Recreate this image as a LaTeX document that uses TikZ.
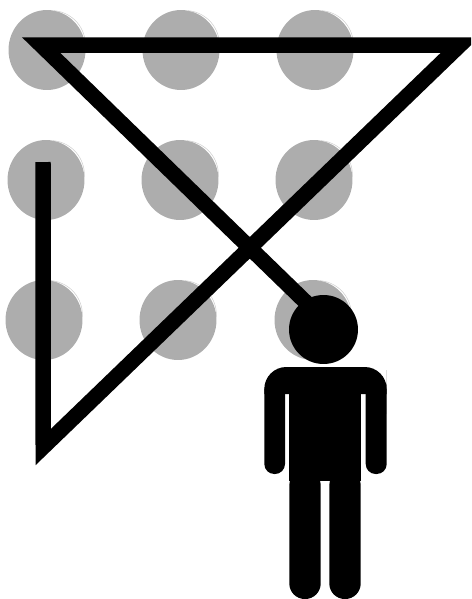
\documentclass[tikz,border=0pt]{standalone}
\definecolor{dotgray}{RGB}{173, 173, 173}
\usetikzlibrary{shapes.geometric}
\tikzset{
	dotnode/.style={ellipse, fill=dotgray, inner sep=0pt, outer sep=0pt, minimum width=1.54cm, minimum height=1.6cm},
	scratch/.style={draw=dotgray!60, line width=0.3pt},
	pencil/.style={draw=black, line width=0.31cm, miter limit=20},
	figurepart/.style={fill=black},
}

\begin{document}
\begin{tikzpicture}[x=0.02cm, y=-0.02cm]
		\clip (0,0) rectangle (471,599);
		% the nine dots
		\node[dotnode] (dotA) at (47,50) {};
		\node[dotnode] (dotB) at (181,50) {};
		\node[dotnode] (dotC) at (315,50) {};
		\node[dotnode] (dotD) at (46,180) {};
		\node[dotnode] (dotE) at (180,180) {};
		\node[dotnode] (dotF) at (314,180) {};
		\node[dotnode] (dotG) at (44,320) {};
		\node[dotnode] (dotH) at (178,320) {};
		\node[dotnode] (dotI) at (313,320) {};
		\foreach \d in {dotA,dotB,dotC,dotD,dotE,dotF,dotG,dotH,dotI}
			\draw[scratch] (\d.80) to[bend left=44] (\d.5);
		% the line through them
		\coordinate (lineStart) at (43,162);
		\coordinate (lineLow) at (43.25,447);
		\coordinate (lineRight) at (460,45);
		\coordinate (lineLeft) at (41,45);
		\coordinate (lineEnd) at (320,316);
		\draw[pencil] (lineStart) -- (lineLow) -- (lineRight) -- (lineLeft) -- (lineEnd);
		% the man
		\node[circle, fill=black, inner sep=0pt, minimum size=1.38cm] (head) at (323.5,329.5) {};
		\fill[figurepart] (264.3,394) [rounded corners=0.44cm] -- (264.3,367) -- (386.7,367) -- (386.7,392) [sharp corners] -- (386.7,394) -- cycle;
		\fill[figurepart, rounded corners=0.2cm] (264.3,380) rectangle (285,474);
		\fill[figurepart, rounded corners=0.2cm] (365.7,380) rectangle (386.7,474);
		\fill[figurepart] (289.3,380) rectangle (360.7,481);
		\fill[figurepart, rounded corners=0.31cm] (289.3,470) rectangle (320.7,599);
		\fill[figurepart, rounded corners=0.31cm] (329.3,470) rectangle (360.7,599);
	\end{tikzpicture}
\end{document}
